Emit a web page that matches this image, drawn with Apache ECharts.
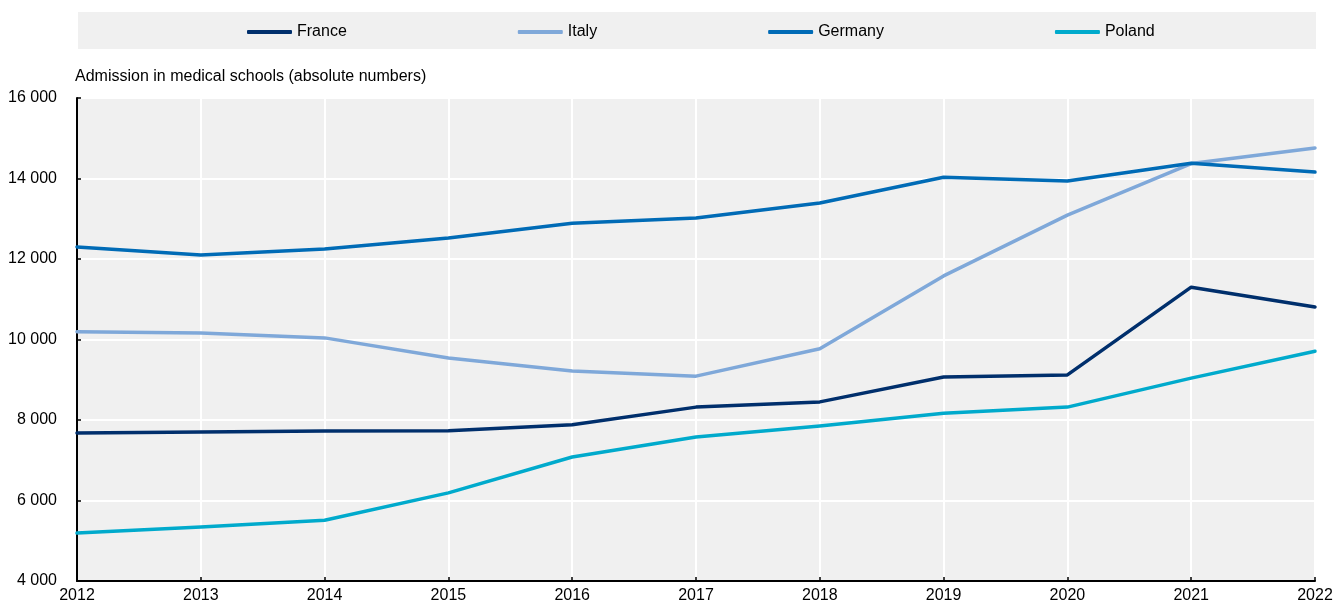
<!DOCTYPE html>
<html><head><meta charset="utf-8">
<script src="https://cdn.jsdelivr.net/npm/echarts@6/dist/echarts.min.js"></script>
<style>html,body{margin:0;padding:0;background:#fff}#c{width:1336px;height:604px}</style>
</head><body><div id="c"></div>
<script>
const years = ['2012','2013','2014','2015','2016','2017','2018','2019','2020','2021','2022'];
const france  = [7680, 7700, 7725, 7730, 7880, 8320, 8450, 9070, 9120, 11300, 10810];
const italy   = [10190, 10160, 10040, 9540, 9220, 9090, 9770, 11580, 13090, 14370, 14760];
const germany = [12300, 12100, 12250, 12520, 12890, 13020, 13390, 14030, 13940, 14380, 14160];
const poland  = [5190, 5340, 5510, 6190, 7080, 7580, 7850, 8170, 8320, 9040, 9710];
const yTitle = 'Admission in medical schools (absolute numbers)';

const FONT = '"Liberation Sans", Arial, sans-serif';
const colors = {France:'#002F6C', Italy:'#7FA8D9', Germany:'#006BB6', Poland:'#00AACC'};
const fmt = v => String(v).replace(/\B(?=(\d{3})+(?!\d))/g, ' ');

const chart = echarts.init(document.getElementById('c'));
const mk = (name, data) => ({
  name, type:'line', data, symbol:'none', smooth:false,
  lineStyle:{width:3.5, color:colors[name], cap:'round', join:'round'},
  itemStyle:{color:colors[name]}
});
chart.setOption({
  animation:false,
  graphic:[
    {type:'rect', shape:{x:78, y:12, width:1238, height:37}, style:{fill:'#f0f0f0'}, z:-1},
    {type:'text', left:75, top:69, style:{text:yTitle, font:'16px '+FONT, fill:'#000'}}
  ],
  legend:{
    left:242, top:19, itemGap:171, itemWidth:45, itemHeight:4, icon:'roundRect',
    textStyle:{fontFamily:FONT, fontSize:16, color:'#000'},
    data:['France','Italy','Germany','Poland']
  },
  grid:{left:77, right:21, top:98, bottom:23, show:true, backgroundColor:'#f0f0f0', borderWidth:0, containLabel:false},
  xAxis:{
    type:'category', data:years, boundaryGap:false,
    axisLine:{show:true, lineStyle:{color:'#000', width:2}},
    axisTick:{show:true, inside:true, length:4, lineStyle:{color:'#000', width:1.5}},
    axisLabel:{fontFamily:FONT, fontSize:16, color:'#000', margin:7, showMaxLabel:true, showMinLabel:true},
    splitLine:{show:true, lineStyle:{color:'#fff', width:2}}
  },
  yAxis:{
    type:'value', min:4000, max:16000, interval:2000,
    axisLine:{show:true, lineStyle:{color:'#000', width:2}},
    axisTick:{show:true, inside:true, length:4, lineStyle:{color:'#000', width:1.5}},
    axisLabel:{fontFamily:FONT, fontSize:16, color:'#000', margin:20, formatter:fmt},
    splitLine:{show:true, lineStyle:{color:'#fff', width:2}}
  },
  series:[mk('France',france), mk('Italy',italy), mk('Germany',germany), mk('Poland',poland)]
});
</script></body></html>
